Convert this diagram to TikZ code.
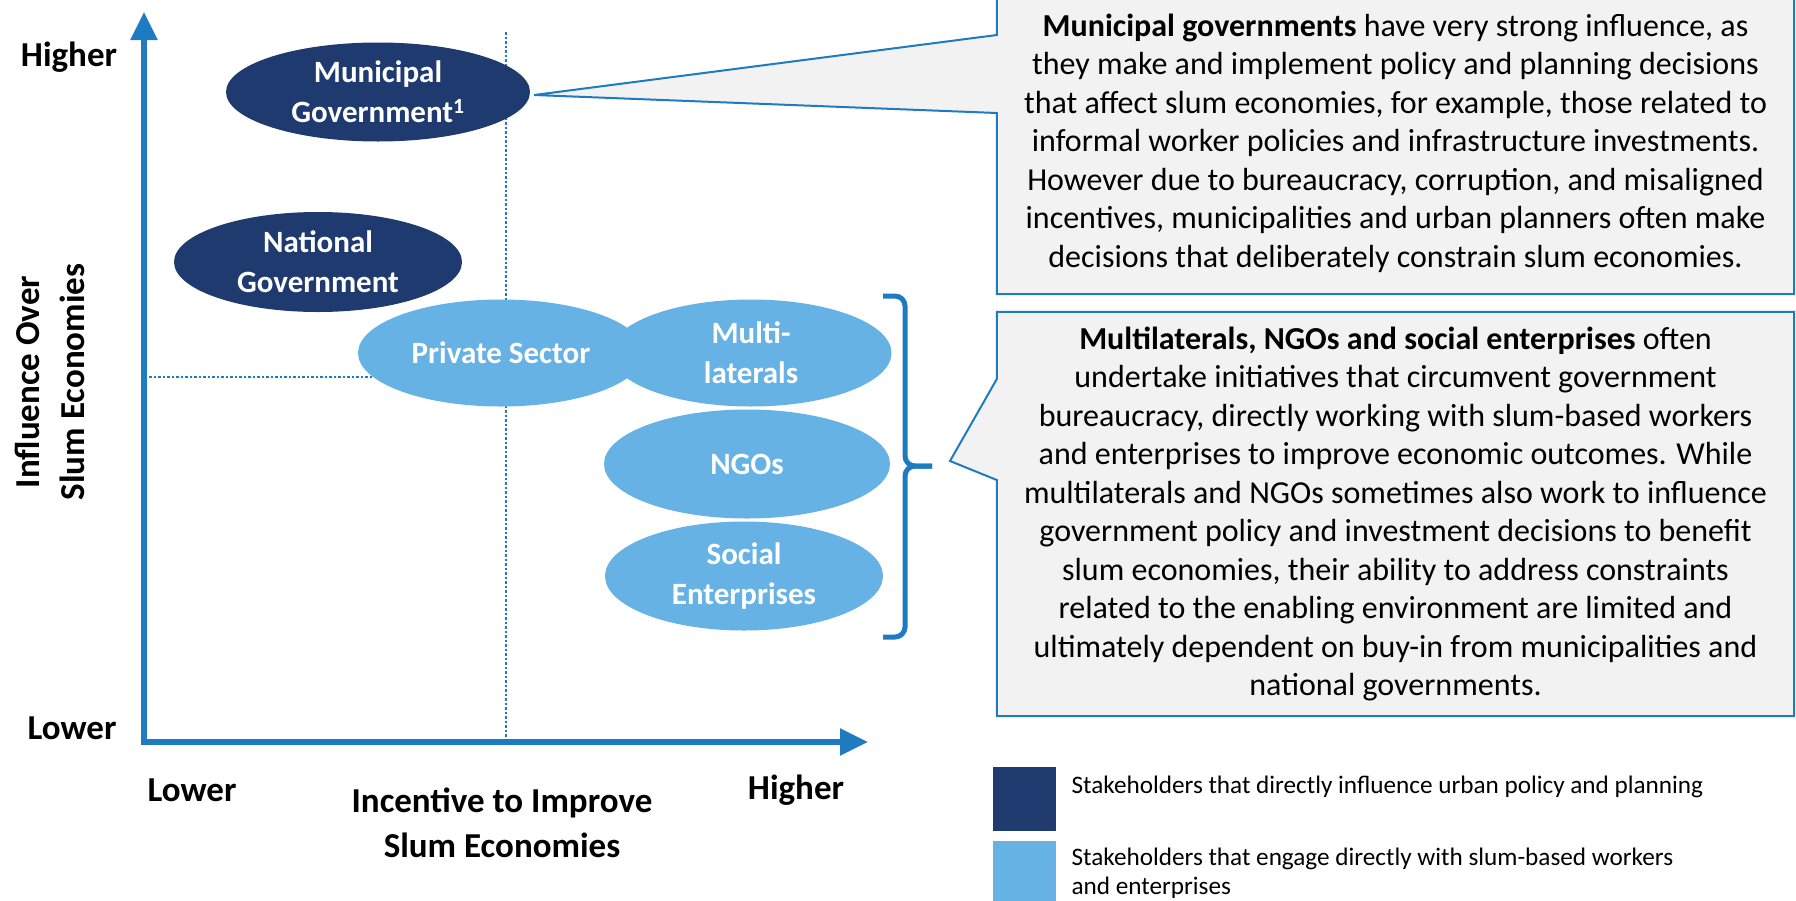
\documentclass[tikz,border=0pt]{standalone}
\usepackage{fontspec}
\setmainfont{Carlito}
\usetikzlibrary{shapes.geometric,arrows.meta,positioning,calc}

\definecolor{navy}{HTML}{1F3A6E}
\definecolor{sky}{HTML}{66B2E5}
\definecolor{axisblue}{HTML}{1F7BC1}
\definecolor{boxgray}{HTML}{F2F2F2}

\newcommand\axisfont{\fontsize{35}{45}\selectfont\bfseries}
\newcommand\blobfont{\fontsize{31}{40}\selectfont\bfseries}
\newcommand\notefont{\fontsize{32}{38.5}\selectfont}
\newcommand\keyfont{\fontsize{25.2}{29}\selectfont}

\tikzset{
  blob/.style={ellipse, inner sep=-20pt, text=white, align=center, font=\blobfont},
  govblob/.style={blob, fill=navy},
  fieldblob/.style={blob, fill=sky},
  axisline/.style={axisblue, line width=5.5pt, line cap=rect,
    -{Triangle[length=28pt,width=26pt]}},
  guide/.style={axisblue, line width=2.5pt, dash pattern=on 2.5pt off 2pt},
  notebox/.style={rectangle, fill=boxgray, minimum width=797pt, inner sep=0pt,
    align=center, font=\notefont},
  noteline/.style={draw=axisblue, line width=2pt},
  bracket/.style={axisblue, line width=5pt, rounded corners=10pt},
  keybox/.style={rectangle, minimum width=63pt, minimum height=64pt, inner sep=0pt},
  keytext/.style={align=left, inner sep=0pt, font=\keyfont},
  lbl/.style={font=\axisfont, align=center},
}

\begin{document}
\begin{tikzpicture}[x=1pt,y=-1pt]
  \useasboundingbox (0,0) rectangle (1796,900);

  % guides
  \coordinate (origin) at (144,742);
  \coordinate (midtop) at (506,32);
  \coordinate (midleft) at (149,377);
  \draw[guide] (midtop) -- (midtop |- origin);

  % stakeholders
  \node[govblob, minimum width=288pt, minimum height=100pt] (natl) at (318,262)
    {National\\Government};
  \node[govblob, minimum width=304pt, minimum height=99pt] (muni) at (378,92)
    {Municipal\\Government\textsuperscript{1}};
  \draw[guide] (midleft) -- (midleft -| 420,0);
  \node[fieldblob, minimum width=286pt, minimum height=107pt] (priv) at (501,353)
    {Private Sector};
  \node[fieldblob, minimum width=281pt, minimum height=107pt] (multi) at (751,353)
    {Multi-\\laterals};
  \node[fieldblob, minimum width=286pt, minimum height=109pt] (ngo) at (747,464)
    {NGOs};
  \node[fieldblob, minimum width=278pt, minimum height=109pt] (social) at (744,576)
    {Social\\Enterprises};

  % axes
  \coordinate (ytip) at (144,12);
  \coordinate (xtip) at (868,742);
  \draw[axisline] (origin) -- (ytip);
  \draw[axisline] (origin) -- (xtip);

  \node[lbl] (yhi) at (69,57) {Higher};
  \node[lbl] (ylo) at (72,728) {Lower};
  \node[lbl] (xlo) at (192,790) {Lower};
  \node[lbl] (xhi) at (796,790) {Higher};
  \node[lbl] (xtitle) at (502,823) {Incentive to Improve\\Slum Economies};
  \node[lbl, rotate=90] (ytitle) at (50,382) {Influence Over\\Slum Economies};

  % brace
  \coordinate (bracetop) at (883,296);
  \coordinate (bracebot) at (883,637);
  \coordinate (bracetip) at (932,466);
  \draw[bracket] (bracetop) -- ++(22,0) |- (bracetip);
  \draw[bracket] (bracebot) -- ++(22,0) |- (bracetip);

  % callouts
  \node[notebox, minimum height=302pt] (note1) at (1395.5,143)
    {\textbf{Municipal governments} have very strong influence, as\\
     they make and implement policy and planning decisions\\
     that affect slum economies, for example, those related to\\
     informal worker policies and infrastructure investments.\\
     However due to bureaucracy, corruption, and misaligned\\
     incentives, municipalities and urban planners often make\\
     decisions that deliberately constrain slum economies.};
  \coordinate (tip1) at ($(muni.east)+(4,3)$);
  \fill[boxgray] (note1.west |- 0,35) -- (tip1) -- (note1.west |- 0,113) -- cycle;
  \draw[noteline] (note1.north west) -- (note1.west |- 0,35) -- (tip1)
    -- (note1.west |- 0,113) -- (note1.south west) -- (note1.south east)
    -- (note1.north east) -- cycle;

  \node[notebox, minimum height=404pt] (note2) at (1395.5,514)
    {\textbf{Multilaterals, NGOs and social enterprises} often\\
     undertake initiatives that circumvent government\\
     bureaucracy, directly working with slum-based workers\\
     and enterprises to improve economic outcomes. While\\
     multilaterals and NGOs sometimes also work to influence\\
     government policy and investment decisions to benefit\\
     slum economies, their ability to address constraints\\
     related to the enabling environment are limited and\\
     ultimately dependent on buy-in from municipalities and\\
     national governments.};
  \coordinate (tip2) at ($(bracetip)+(18,-5)$);
  \fill[boxgray] (note2.west |- 0,379) -- (tip2) -- (note2.west |- 0,480) -- cycle;
  \draw[noteline] (note2.north west) -- (note2.west |- 0,379) -- (tip2)
    -- (note2.west |- 0,480) -- (note2.south west) -- (note2.south east)
    -- (note2.north east) -- cycle;

  % legend
  \node[keybox, fill=navy, anchor=north west] (key1) at (993,767) {};
  \node[keybox, fill=sky, below=9pt of key1] (key2) {};
  \node[keytext, anchor=base west] (key1t) at ($(key1.north east)+(15,26)$)
    {Stakeholders that directly influence urban policy and planning};
  \node[keytext, anchor=base west] (key2t) at ($(key2.north east)+(15,54)$)
    {Stakeholders that engage directly with slum-based workers\\and enterprises};
\end{tikzpicture}
\end{document}
